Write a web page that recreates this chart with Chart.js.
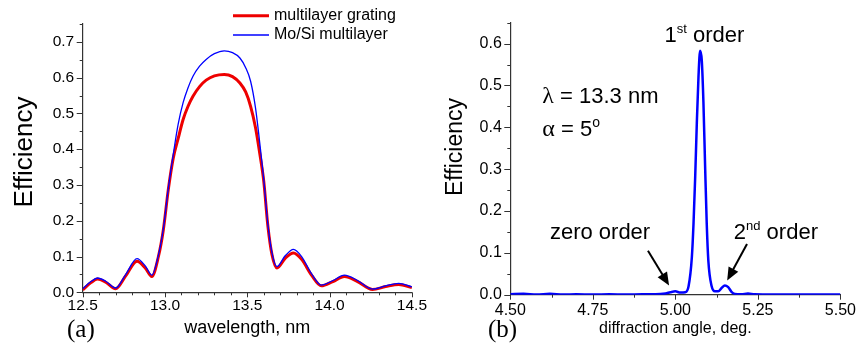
<!DOCTYPE html>
<html>
<head>
<meta charset="utf-8">
<script src="https://cdn.jsdelivr.net/npm/chart.js@4.4.0/dist/chart.umd.min.js"></script>
<style>
  body { margin: 0; background: #fff; }
  #wrap { position: relative; width: 862px; height: 348px; }
  canvas { position: absolute; top: 0; }
</style>
</head>
<body>
<div id="wrap">
  <canvas id="chartA" width="431" height="348" style="left:0"></canvas>
  <canvas id="chartB" width="431" height="348" style="left:431px"></canvas>
</div>
<script>
var FONT = "'Liberation Sans', Arial, sans-serif";
var SERIF = "'Liberation Serif', 'Times New Roman', serif";

// (a) efficiency vs wavelength
var wavelength = [12.50, 12.55, 12.59, 12.64, 12.70, 12.76, 12.83, 12.88, 12.92, 12.96,
                  12.99, 13.02, 13.05, 13.08, 13.11, 13.14, 13.17, 13.21, 13.25, 13.30,
                  13.36, 13.41, 13.455, 13.49, 13.52, 13.55, 13.575, 13.60, 13.625, 13.65,
                  13.68, 13.73, 13.78, 13.83, 13.89, 13.95, 14.02, 14.09, 14.17, 14.26,
                  14.34, 14.42, 14.50];
var gratingEff = [0.007, 0.027, 0.037, 0.028, 0.010, 0.045, 0.087, 0.068, 0.044, 0.100,
                  0.175, 0.287, 0.375, 0.43, 0.483, 0.52, 0.548, 0.575, 0.593, 0.605,
                  0.609, 0.603, 0.585, 0.56, 0.52, 0.46, 0.39, 0.31, 0.185, 0.105,
                  0.068, 0.095, 0.110, 0.092, 0.048, 0.018, 0.030, 0.044, 0.030, 0.008,
                  0.016, 0.022, 0.013];
var multilayerEff = [0.010, 0.030, 0.040, 0.031, 0.012, 0.049, 0.094, 0.074, 0.048, 0.104,
                     0.178, 0.29, 0.385, 0.47, 0.53, 0.572, 0.604, 0.632, 0.651, 0.667,
                     0.675, 0.670, 0.655, 0.628, 0.59, 0.515, 0.42, 0.315, 0.19, 0.11,
                     0.072, 0.102, 0.120, 0.100, 0.052, 0.020, 0.033, 0.048, 0.033, 0.009,
                     0.018, 0.025, 0.015];
var seriesA = ['multilayer grating', 'Mo/Si multilayer'];

// (b) efficiency vs diffraction angle
var angle = [4.50, 4.54, 4.58, 4.62, 4.66, 4.70, 4.75, 4.80, 4.85, 4.90,
             4.94, 4.97, 4.985, 5.00, 5.015, 5.03, 5.04, 5.05, 5.055, 5.06,
             5.065, 5.07, 5.075, 5.08, 5.085, 5.09, 5.095, 5.10, 5.11, 5.12,
             5.13, 5.14, 5.15, 5.16, 5.17, 5.18, 5.20, 5.22, 5.24, 5.30,
             5.40, 5.50];
var orderEff = [0.001, 0.002, 0.0005, 0.002, 0.0005, 0.001, 0.0005, 0.001, 0.0005, 0.001,
                0.001, 0.003, 0.006, 0.008, 0.005, 0.006, 0.02, 0.09, 0.17, 0.28,
                0.41, 0.52, 0.583, 0.56, 0.46, 0.31, 0.17, 0.08, 0.02, 0.008,
                0.008, 0.016, 0.022, 0.018, 0.007, 0.002, 0.001, 0.003, 0.001, 0.0005,
                0.0005, 0.0005];

function pts(xs, ys) {
    return xs.map(function (x, i) { return { x: x, y: ys[i] }; });
}

// тики, підписи, стрілки - все поверх графіка
var decor = {
    id: 'decor',
    afterDraw: function (chart, args, opts) {
        var ctx = chart.ctx, area = chart.chartArea;
        var xs = chart.scales.x, ys = chart.scales.y;
        ctx.save();

        ctx.strokeStyle = '#333';
        ctx.lineWidth = 1;
        ctx.beginPath();
        xs.ticks.forEach(function (t) {
            var px = Math.round(xs.getPixelForValue(t.value)) + 0.5;
            ctx.moveTo(px, area.bottom);
            ctx.lineTo(px, area.bottom + (t.label ? 5 : 3));
        });
        ys.ticks.forEach(function (t) {
            var py = Math.round(ys.getPixelForValue(t.value)) + 0.5;
            ctx.moveTo(area.left, py);
            ctx.lineTo(area.left - (t.label ? 6 : 3), py);
        });
        ctx.stroke();

        ctx.fillStyle = '#000';
        var yt = opts.yTitle;
        ctx.save();
        ctx.translate(yt.x, yt.y);
        ctx.rotate(-Math.PI / 2);
        ctx.font = yt.font;
        ctx.textAlign = 'center';
        ctx.textBaseline = 'middle';
        ctx.fillText(yt.text, 0, 0);
        ctx.restore();

        ctx.textAlign = 'left';
        ctx.textBaseline = 'alphabetic';
        ctx.font = opts.panel.font;
        ctx.fillText(opts.panel.text, opts.panel.x, opts.panel.y);

        if (opts.legend) {
            var lg = opts.legend;
            chart.data.datasets.forEach(function (ds, i) {
                var y = lg.y + i * lg.gap;
                ctx.strokeStyle = ds.borderColor;
                ctx.lineWidth = ds.borderWidth;
                ctx.beginPath();
                ctx.moveTo(lg.x, y);
                ctx.lineTo(lg.x + 36, y);
                ctx.stroke();
                ctx.font = lg.font;
                ctx.textBaseline = 'middle';
                ctx.fillText(ds.label, lg.x + 41, y);
            });
            ctx.textBaseline = 'alphabetic';
        }

        (opts.notes || []).forEach(function (n) {
            var x = xs.getPixelForValue(n.x), y = ys.getPixelForValue(n.y);
            n.parts.forEach(function (p) {
                ctx.font = p[1];
                ctx.fillText(p[0], x, y + (p[2] || 0));
                x += ctx.measureText(p[0]).width;
            });
        });

        (opts.arrows || []).forEach(function (a) {
            var x1 = xs.getPixelForValue(a.from[0]), y1 = ys.getPixelForValue(a.from[1]);
            var x2 = xs.getPixelForValue(a.to[0]), y2 = ys.getPixelForValue(a.to[1]);
            var ang = Math.atan2(y2 - y1, x2 - x1), c = Math.cos(ang), s = Math.sin(ang);
            ctx.strokeStyle = '#000';
            ctx.lineWidth = 2;
            ctx.beginPath();
            ctx.moveTo(x1, y1);
            ctx.lineTo(x2 - 9 * c, y2 - 9 * s);
            ctx.stroke();
            ctx.beginPath();
            ctx.moveTo(x2, y2);
            ctx.lineTo(x2 - 13 * c + 5.5 * s, y2 - 13 * s - 5.5 * c);
            ctx.lineTo(x2 - 13 * c - 5.5 * s, y2 - 13 * s + 5.5 * c);
            ctx.closePath();
            ctx.fill();
        });

        ctx.restore();
    }
};

function isStep(v, n) {
    return Math.abs(v * n - Math.round(v * n)) < 1e-6;
}

function axisX(min, max, step, every, digits, title, fontSize, titlePad, labelPad, height) {
    return {
        type: 'linear', min: min, max: max,
        grid: { display: false, drawTicks: false },
        border: { color: '#333', width: 1.2 },
        ticks: {
            stepSize: step, autoSkip: false, maxRotation: 0, maxTicksLimit: 100,
            padding: labelPad, color: '#000', font: { family: FONT, size: fontSize },
            callback: function (v) { return isStep(v, every) ? v.toFixed(digits) : ''; }
        },
        title: {
            display: true, text: title.text, color: '#000',
            font: { family: FONT, size: title.size }, padding: { top: 0, bottom: titlePad }
        },
        afterFit: function (s) { s.height = height; }
    };
}

function axisY(max, fontSize, width) {
    return {
        min: 0, max: max,
        grid: { display: false, drawTicks: false },
        border: { color: '#333', width: 1.2 },
        ticks: {
            stepSize: 0.05, autoSkip: false, maxTicksLimit: 100,
            padding: 8.5, color: '#000', font: { family: FONT, size: fontSize },
            callback: function (v) { return isStep(v, 10) ? v.toFixed(1) : ''; }
        },
        afterFit: function (s) { s.width = width; }
    };
}

var chartA = new Chart(document.getElementById('chartA'), {
    type: 'line',
    data: {
        datasets: [{
            label: seriesA[0],
            data: pts(wavelength, gratingEff),
            borderColor: '#ee0000',
            borderWidth: 3,
            order: 2
        }, {
            label: seriesA[1],
            data: pts(wavelength, multilayerEff),
            borderColor: '#0000ff',
            borderWidth: 1.3,
            order: 1
        }]
    },
    options: {
        responsive: false,
        animation: false,
        layout: { padding: { top: 24, right: 19, left: 0, bottom: 0 } },
        elements: { point: { radius: 0 }, line: { cubicInterpolationMode: 'monotone', fill: false } },
        plugins: {
            legend: { display: false },
            tooltip: { enabled: false },
            decor: {
                yTitle: { text: 'Efficiency', font: '26px ' + FONT, x: 25, y: 152 },
                panel: { text: '(a)', font: '25px ' + SERIF, x: 67, y: 337 },
                legend: { x: 233, y: 15.7, gap: 19.3, font: '16px ' + FONT }
            }
        },
        scales: {
            x: axisX(12.5, 14.5, 0.1, 2, 1, { text: 'wavelength, nm', size: 18 }, 15.5, 9, 4, 55.7),
            y: axisY(0.75, 15.5, 82.7)
        }
    },
    plugins: [decor]
});

var BIG = '22px ' + FONT, SUP = '13px ' + FONT, GREEK = '24px ' + SERIF;

var chartB = new Chart(document.getElementById('chartB'), {
    type: 'line',
    data: {
        datasets: [{
            label: 'efficiency',
            data: pts(angle, orderEff),
            borderColor: '#0000ff',
            borderWidth: 2.5
        }]
    },
    options: {
        responsive: false,
        animation: false,
        layout: { padding: { top: 22.7, right: 18.3, left: 0, bottom: 0 } },
        elements: { point: { radius: 0 }, line: { cubicInterpolationMode: 'monotone', fill: false } },
        plugins: {
            legend: { display: false },
            tooltip: { enabled: false },
            decor: {
                yTitle: { text: 'Efficiency', font: '23px ' + FONT, x: 25, y: 147 },
                panel: { text: '(b)', font: '25px ' + SERIF, x: 57, y: 337 },
                notes: [
                    { x: 4.967, y: 0.605, parts: [['1', BIG], ['st', SUP, -9], [' order', BIG]] },
                    { x: 4.597, y: 0.459, parts: [['\u03bb', GREEK], [' = 13.3 nm', BIG]] },
                    { x: 4.597, y: 0.380, parts: [['\u03b1', GREEK], [' = 5', BIG], ['o', '14px ' + FONT, -9]] },
                    { x: 4.62, y: 0.133, parts: [['zero order', BIG]] },
                    { x: 5.177, y: 0.133, parts: [['2', BIG], ['nd', SUP, -9], [' order', BIG]] }
                ],
                arrows: [
                    { from: [4.917, 0.105], to: [4.981, 0.022] },
                    { from: [5.217, 0.121], to: [5.157, 0.034] }
                ]
            }
        },
        scales: {
            x: axisX(4.5, 5.5, 0.125, 4, 2, { text: 'diffraction angle, deg.', size: 16 }, 16, 10, 6, 53.3),
            y: axisY(0.65, 16, 79.3)
        }
    },
    plugins: [decor]
});
</script>
</body>
</html>
